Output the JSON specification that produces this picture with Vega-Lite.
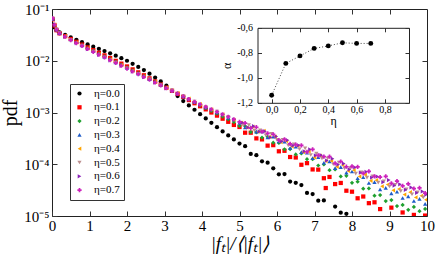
{
"$schema": "https://vega.github.io/schema/vega-lite/v6.json",
"width": 375, "height": 207,
"autosize": "none",
"padding": {"left": 52, "top": 9, "right": 9, "bottom": 43},
"background": "white",
"config": {
  "font": "Liberation Serif",
  "view": {"stroke": "#222", "strokeWidth": 1},
  "axis": {"grid": false, "labelFont": "Liberation Serif", "titleFont": "Liberation Serif", "tickColor": "#333", "domainColor": "#222", "labelColor": "#000", "titleColor": "#000", "titleFontWeight": "normal"},
  "legend": {"labelFont": "Liberation Serif", "labelFontSize": 11, "labelColor": "#000", "rowPadding": 1.8, "padding": 4, "symbolSize": 18, "labelOffset": 9, "strokeColor": "#333", "fillColor": "white"}
},
"datasets": {
"pdf": [
{"s":"η=0.0","x":0.02,"y":5.01e-2},{"s":"η=0.0","x":0.07,"y":4.37e-2},{"s":"η=0.0","x":0.12,"y":3.89e-2},{"s":"η=0.0","x":0.2,"y":3.55e-2},{"s":"η=0.0","x":0.35,"y":3.16e-2},{"s":"η=0.0","x":0.5,"y":2.82e-2},{"s":"η=0.0","x":0.65,"y":2.54e-2},{"s":"η=0.0","x":0.8,"y":2.29e-2},{"s":"η=0.0","x":0.95,"y":2.07e-2},{"s":"η=0.0","x":1.1,"y":1.87e-2},{"s":"η=0.0","x":1.25,"y":1.70e-2},{"s":"η=0.0","x":1.4,"y":1.54e-2},{"s":"η=0.0","x":1.55,"y":1.39e-2},{"s":"η=0.0","x":1.7,"y":1.25e-2},{"s":"η=0.0","x":1.85,"y":1.12e-2},{"s":"η=0.0","x":2.0,"y":1.00e-2},{"s":"η=0.0","x":2.15,"y":8.71e-3},{"s":"η=0.0","x":2.3,"y":7.59e-3},{"s":"η=0.0","x":2.45,"y":6.61e-3},{"s":"η=0.0","x":2.6,"y":5.62e-3},{"s":"η=0.0","x":2.75,"y":4.73e-3},{"s":"η=0.0","x":2.9,"y":3.98e-3},{"s":"η=0.0","x":3.05,"y":3.29e-3},{"s":"η=0.0","x":3.2,"y":2.62e-3},{"s":"η=0.0","x":3.35,"y":2.08e-3},{"s":"η=0.0","x":3.5,"y":1.66e-3},{"s":"η=0.0","x":3.65,"y":1.37e-3},{"s":"η=0.0","x":3.8,"y":1.13e-3},{"s":"η=0.0","x":3.95,"y":9.29e-4},{"s":"η=0.0","x":4.1,"y":7.66e-4},{"s":"η=0.0","x":4.25,"y":6.31e-4},{"s":"η=0.0","x":4.4,"y":5.20e-4},{"s":"η=0.0","x":4.55,"y":4.31e-4},{"s":"η=0.0","x":4.7,"y":3.60e-4},{"s":"η=0.0","x":4.85,"y":3.01e-4},{"s":"η=0.0","x":5.0,"y":2.51e-4},{"s":"η=0.0","x":5.15,"y":2.23e-4},{"s":"η=0.0","x":5.3,"y":1.58e-4},{"s":"η=0.0","x":5.45,"y":1.50e-4},{"s":"η=0.0","x":5.6,"y":1.14e-4},{"s":"η=0.0","x":5.75,"y":1.07e-4},{"s":"η=0.0","x":5.9,"y":8.36e-5},{"s":"η=0.0","x":6.05,"y":6.38e-5},{"s":"η=0.0","x":6.2,"y":6.46e-5},{"s":"η=0.0","x":6.35,"y":4.62e-5},{"s":"η=0.0","x":6.5,"y":4.37e-5},{"s":"η=0.0","x":6.65,"y":3.96e-5},{"s":"η=0.0","x":6.8,"y":2.79e-5},{"s":"η=0.0","x":6.95,"y":2.65e-5},{"s":"η=0.0","x":7.1,"y":1.98e-5},{"s":"η=0.0","x":7.25,"y":2.00e-5},{"s":"η=0.0","x":7.55,"y":1.52e-5},{"s":"η=0.0","x":7.7,"y":1.16e-5},{"s":"η=0.0","x":7.85,"y":1.10e-5},
{"s":"η=0.1","x":0.02,"y":6.31e-2},{"s":"η=0.1","x":0.07,"y":4.79e-2},{"s":"η=0.1","x":0.12,"y":3.89e-2},{"s":"η=0.1","x":0.2,"y":3.39e-2},{"s":"η=0.1","x":0.35,"y":2.99e-2},{"s":"η=0.1","x":0.5,"y":2.63e-2},{"s":"η=0.1","x":0.65,"y":2.32e-2},{"s":"η=0.1","x":0.8,"y":2.05e-2},{"s":"η=0.1","x":0.95,"y":1.81e-2},{"s":"η=0.1","x":1.1,"y":1.61e-2},{"s":"η=0.1","x":1.25,"y":1.43e-2},{"s":"η=0.1","x":1.4,"y":1.27e-2},{"s":"η=0.1","x":1.55,"y":1.13e-2},{"s":"η=0.1","x":1.7,"y":9.95e-3},{"s":"η=0.1","x":1.85,"y":8.79e-3},{"s":"η=0.1","x":2.0,"y":7.76e-3},{"s":"η=0.1","x":2.15,"y":6.81e-3},{"s":"η=0.1","x":2.3,"y":5.97e-3},{"s":"η=0.1","x":2.45,"y":5.24e-3},{"s":"η=0.1","x":2.6,"y":4.57e-3},{"s":"η=0.1","x":2.75,"y":3.98e-3},{"s":"η=0.1","x":2.9,"y":3.47e-3},{"s":"η=0.1","x":3.05,"y":3.02e-3},{"s":"η=0.1","x":3.2,"y":2.63e-3},{"s":"η=0.1","x":3.35,"y":2.29e-3},{"s":"η=0.1","x":3.5,"y":2.00e-3},{"s":"η=0.1","x":3.65,"y":1.74e-3},{"s":"η=0.1","x":3.8,"y":1.51e-3},{"s":"η=0.1","x":3.95,"y":1.32e-3},{"s":"η=0.1","x":4.1,"y":1.15e-3},{"s":"η=0.1","x":4.25,"y":1.00e-3},{"s":"η=0.1","x":4.4,"y":8.71e-4},{"s":"η=0.1","x":4.55,"y":7.59e-4},{"s":"η=0.1","x":4.7,"y":6.61e-4},{"s":"η=0.1","x":4.85,"y":5.75e-4},{"s":"η=0.1","x":5.0,"y":5.25e-4},{"s":"η=0.1","x":5.15,"y":4.07e-4},{"s":"η=0.1","x":5.3,"y":4.07e-4},{"s":"η=0.1","x":5.45,"y":3.16e-4},{"s":"η=0.1","x":5.6,"y":3.02e-4},{"s":"η=0.1","x":5.75,"y":2.29e-4},{"s":"η=0.1","x":5.9,"y":2.34e-4},{"s":"η=0.1","x":6.05,"y":1.78e-4},{"s":"η=0.1","x":6.2,"y":1.82e-4},{"s":"η=0.1","x":6.35,"y":1.38e-4},{"s":"η=0.1","x":6.5,"y":1.35e-4},{"s":"η=0.1","x":6.65,"y":9.77e-5},{"s":"η=0.1","x":6.8,"y":1.05e-4},{"s":"η=0.1","x":6.95,"y":7.94e-5},{"s":"η=0.1","x":7.1,"y":7.87e-5},{"s":"η=0.1","x":7.25,"y":5.37e-5},{"s":"η=0.1","x":7.3,"y":3.47e-5},{"s":"η=0.1","x":7.4,"y":5.68e-5},{"s":"η=0.1","x":7.55,"y":4.14e-5},{"s":"η=0.1","x":7.7,"y":4.35e-5},{"s":"η=0.1","x":7.85,"y":3.08e-5},{"s":"η=0.1","x":8.0,"y":2.95e-5},{"s":"η=0.1","x":8.15,"y":2.20e-5},{"s":"η=0.1","x":8.3,"y":2.38e-5},{"s":"η=0.1","x":8.45,"y":1.77e-5},{"s":"η=0.1","x":8.6,"y":1.84e-5},{"s":"η=0.1","x":8.75,"y":1.36e-5},{"s":"η=0.1","x":9.05,"y":1.45e-5},{"s":"η=0.1","x":9.35,"y":1.17e-5},{"s":"η=0.1","x":9.65,"y":1.05e-5},{"s":"η=0.1","x":9.95,"y":1.02e-5},
{"s":"η=0.2","x":0.02,"y":6.46e-2},{"s":"η=0.2","x":0.07,"y":4.90e-2},{"s":"η=0.2","x":0.12,"y":3.98e-2},{"s":"η=0.2","x":0.2,"y":3.39e-2},{"s":"η=0.2","x":0.35,"y":2.95e-2},{"s":"η=0.2","x":0.5,"y":2.57e-2},{"s":"η=0.2","x":0.65,"y":2.26e-2},{"s":"η=0.2","x":0.8,"y":2.00e-2},{"s":"η=0.2","x":0.95,"y":1.75e-2},{"s":"η=0.2","x":1.1,"y":1.55e-2},{"s":"η=0.2","x":1.25,"y":1.37e-2},{"s":"η=0.2","x":1.4,"y":1.22e-2},{"s":"η=0.2","x":1.55,"y":1.08e-2},{"s":"η=0.2","x":1.7,"y":9.51e-3},{"s":"η=0.2","x":1.85,"y":8.39e-3},{"s":"η=0.2","x":2.0,"y":7.41e-3},{"s":"η=0.2","x":2.15,"y":6.53e-3},{"s":"η=0.2","x":2.3,"y":5.74e-3},{"s":"η=0.2","x":2.45,"y":5.05e-3},{"s":"η=0.2","x":2.6,"y":4.45e-3},{"s":"η=0.2","x":2.75,"y":3.91e-3},{"s":"η=0.2","x":2.9,"y":3.44e-3},{"s":"η=0.2","x":3.05,"y":3.03e-3},{"s":"η=0.2","x":3.2,"y":2.65e-3},{"s":"η=0.2","x":3.35,"y":2.33e-3},{"s":"η=0.2","x":3.5,"y":2.04e-3},{"s":"η=0.2","x":3.65,"y":1.79e-3},{"s":"η=0.2","x":3.8,"y":1.57e-3},{"s":"η=0.2","x":3.95,"y":1.38e-3},{"s":"η=0.2","x":4.1,"y":1.21e-3},{"s":"η=0.2","x":4.25,"y":1.07e-3},{"s":"η=0.2","x":4.4,"y":9.46e-4},{"s":"η=0.2","x":4.55,"y":8.36e-4},{"s":"η=0.2","x":4.7,"y":7.38e-4},{"s":"η=0.2","x":4.85,"y":6.52e-4},{"s":"η=0.2","x":5.0,"y":5.50e-4},{"s":"η=0.2","x":5.15,"y":5.45e-4},{"s":"η=0.2","x":5.3,"y":4.19e-4},{"s":"η=0.2","x":5.45,"y":4.15e-4},{"s":"η=0.2","x":5.6,"y":3.27e-4},{"s":"η=0.2","x":5.75,"y":3.39e-4},{"s":"η=0.2","x":5.9,"y":2.61e-4},{"s":"η=0.2","x":6.05,"y":2.58e-4},{"s":"η=0.2","x":6.2,"y":1.94e-4},{"s":"η=0.2","x":6.35,"y":1.97e-4},{"s":"η=0.2","x":6.5,"y":1.55e-4},{"s":"η=0.2","x":6.65,"y":1.62e-4},{"s":"η=0.2","x":6.8,"y":1.25e-4},{"s":"η=0.2","x":6.95,"y":1.25e-4},{"s":"η=0.2","x":7.1,"y":9.46e-5},{"s":"η=0.2","x":7.25,"y":9.89e-5},{"s":"η=0.2","x":7.4,"y":7.66e-5},{"s":"η=0.2","x":7.55,"y":7.96e-5},{"s":"η=0.2","x":7.7,"y":5.81e-5},{"s":"η=0.2","x":7.85,"y":5.98e-5},{"s":"η=0.2","x":8.0,"y":4.37e-5},{"s":"η=0.2","x":8.15,"y":4.61e-5},{"s":"η=0.2","x":8.3,"y":3.37e-5},{"s":"η=0.2","x":8.45,"y":3.40e-5},{"s":"η=0.2","x":8.6,"y":2.47e-5},{"s":"η=0.2","x":8.75,"y":2.54e-5},{"s":"η=0.2","x":8.9,"y":1.94e-5},{"s":"η=0.2","x":9.05,"y":2.03e-5},{"s":"η=0.2","x":9.2,"y":1.56e-5},{"s":"η=0.2","x":9.35,"y":1.64e-5},{"s":"η=0.2","x":9.5,"y":1.32e-5},{"s":"η=0.2","x":9.65,"y":1.50e-5},{"s":"η=0.2","x":9.8,"y":1.24e-5},{"s":"η=0.2","x":9.95,"y":1.37e-5},
{"s":"η=0.3","x":0.02,"y":6.46e-2},{"s":"η=0.3","x":0.12,"y":3.98e-2},{"s":"η=0.3","x":0.2,"y":3.43e-2},{"s":"η=0.3","x":0.5,"y":2.57e-2},{"s":"η=0.3","x":0.8,"y":1.98e-2},{"s":"η=0.3","x":1.1,"y":1.53e-2},{"s":"η=0.3","x":1.4,"y":1.19e-2},{"s":"η=0.3","x":1.7,"y":9.29e-3},{"s":"η=0.3","x":2.0,"y":7.24e-3},{"s":"η=0.3","x":2.3,"y":5.65e-3},{"s":"η=0.3","x":2.6,"y":4.41e-3},{"s":"η=0.3","x":2.9,"y":3.44e-3},{"s":"η=0.3","x":3.2,"y":2.66e-3},{"s":"η=0.3","x":3.5,"y":2.05e-3},{"s":"η=0.3","x":3.8,"y":1.60e-3},{"s":"η=0.3","x":4.1,"y":1.26e-3},{"s":"η=0.3","x":4.4,"y":1.00e-3},{"s":"η=0.3","x":4.7,"y":7.94e-4},{"s":"η=0.3","x":5.0,"y":6.31e-4},{"s":"η=0.3","x":5.15,"y":5.16e-4},{"s":"η=0.3","x":5.3,"y":5.21e-4},{"s":"η=0.3","x":5.45,"y":4.27e-4},{"s":"η=0.3","x":5.6,"y":4.31e-4},{"s":"η=0.3","x":5.75,"y":3.29e-4},{"s":"η=0.3","x":5.9,"y":3.40e-4},{"s":"η=0.3","x":6.05,"y":2.77e-4},{"s":"η=0.3","x":6.2,"y":2.74e-4},{"s":"η=0.3","x":6.35,"y":2.06e-4},{"s":"η=0.3","x":6.5,"y":2.19e-4},{"s":"η=0.3","x":6.65,"y":1.71e-4},{"s":"η=0.3","x":6.8,"y":1.67e-4},{"s":"η=0.3","x":6.95,"y":1.31e-4},{"s":"η=0.3","x":7.1,"y":1.37e-4},{"s":"η=0.3","x":7.25,"y":1.07e-4},{"s":"η=0.3","x":7.4,"y":1.13e-4},{"s":"η=0.3","x":7.55,"y":8.39e-5},{"s":"η=0.3","x":7.7,"y":8.83e-5},{"s":"η=0.3","x":7.85,"y":6.89e-5},{"s":"η=0.3","x":8.0,"y":7.24e-5},{"s":"η=0.3","x":8.15,"y":5.36e-5},{"s":"η=0.3","x":8.3,"y":5.60e-5},{"s":"η=0.3","x":8.45,"y":4.34e-5},{"s":"η=0.3","x":8.6,"y":4.53e-5},{"s":"η=0.3","x":8.75,"y":3.27e-5},{"s":"η=0.3","x":8.9,"y":3.50e-5},{"s":"η=0.3","x":9.05,"y":2.74e-5},{"s":"η=0.3","x":9.2,"y":2.94e-5},{"s":"η=0.3","x":9.35,"y":2.23e-5},{"s":"η=0.3","x":9.5,"y":2.40e-5},{"s":"η=0.3","x":9.65,"y":1.95e-5},{"s":"η=0.3","x":9.8,"y":2.14e-5},{"s":"η=0.3","x":9.95,"y":1.72e-5},
{"s":"η=0.4","x":0.07,"y":5.01e-2},{"s":"η=0.4","x":0.35,"y":2.99e-2},{"s":"η=0.4","x":0.65,"y":2.25e-2},{"s":"η=0.4","x":0.95,"y":1.73e-2},{"s":"η=0.4","x":1.25,"y":1.35e-2},{"s":"η=0.4","x":1.55,"y":1.05e-2},{"s":"η=0.4","x":1.85,"y":8.20e-3},{"s":"η=0.4","x":2.15,"y":6.40e-3},{"s":"η=0.4","x":2.45,"y":4.99e-3},{"s":"η=0.4","x":2.75,"y":3.89e-3},{"s":"η=0.4","x":3.05,"y":3.03e-3},{"s":"η=0.4","x":3.35,"y":2.37e-3},{"s":"η=0.4","x":3.65,"y":1.85e-3},{"s":"η=0.4","x":3.95,"y":1.45e-3},{"s":"η=0.4","x":4.25,"y":1.15e-3},{"s":"η=0.4","x":4.55,"y":9.20e-4},{"s":"η=0.4","x":4.85,"y":7.24e-4},{"s":"η=0.4","x":5.05,"y":6.38e-4},{"s":"η=0.4","x":5.2,"y":5.13e-4},{"s":"η=0.4","x":5.35,"y":5.31e-4},{"s":"η=0.4","x":5.5,"y":4.27e-4},{"s":"η=0.4","x":5.65,"y":4.42e-4},{"s":"η=0.4","x":5.8,"y":3.39e-4},{"s":"η=0.4","x":5.95,"y":3.43e-4},{"s":"η=0.4","x":6.1,"y":2.67e-4},{"s":"η=0.4","x":6.25,"y":2.79e-4},{"s":"η=0.4","x":6.4,"y":2.21e-4},{"s":"η=0.4","x":6.55,"y":2.26e-4},{"s":"η=0.4","x":6.7,"y":1.72e-4},{"s":"η=0.4","x":6.85,"y":1.77e-4},{"s":"η=0.4","x":7.0,"y":1.35e-4},{"s":"η=0.4","x":7.15,"y":1.46e-4},{"s":"η=0.4","x":7.3,"y":1.15e-4},{"s":"η=0.4","x":7.45,"y":1.16e-4},{"s":"η=0.4","x":7.6,"y":8.91e-5},{"s":"η=0.4","x":7.75,"y":9.66e-5},{"s":"η=0.4","x":7.9,"y":7.41e-5},{"s":"η=0.4","x":8.05,"y":7.66e-5},{"s":"η=0.4","x":8.2,"y":5.83e-5},{"s":"η=0.4","x":8.35,"y":6.28e-5},{"s":"η=0.4","x":8.5,"y":4.79e-5},{"s":"η=0.4","x":8.65,"y":4.92e-5},{"s":"η=0.4","x":8.8,"y":3.75e-5},{"s":"η=0.4","x":8.95,"y":4.04e-5},{"s":"η=0.4","x":9.1,"y":3.13e-5},{"s":"η=0.4","x":9.25,"y":3.31e-5},{"s":"η=0.4","x":9.4,"y":2.59e-5},{"s":"η=0.4","x":9.55,"y":2.88e-5},{"s":"η=0.4","x":9.7,"y":2.29e-5},{"s":"η=0.4","x":9.85,"y":2.45e-5},{"s":"η=0.4","x":9.97,"y":2.06e-5},
{"s":"η=0.5","x":0.02,"y":6.61e-2},{"s":"η=0.5","x":0.12,"y":4.07e-2},{"s":"η=0.5","x":0.2,"y":3.43e-2},{"s":"η=0.5","x":0.5,"y":2.54e-2},{"s":"η=0.5","x":0.8,"y":1.95e-2},{"s":"η=0.5","x":1.1,"y":1.51e-2},{"s":"η=0.5","x":1.4,"y":1.17e-2},{"s":"η=0.5","x":1.7,"y":9.18e-3},{"s":"η=0.5","x":2.0,"y":7.16e-3},{"s":"η=0.5","x":2.3,"y":5.58e-3},{"s":"η=0.5","x":2.6,"y":4.36e-3},{"s":"η=0.5","x":2.9,"y":3.40e-3},{"s":"η=0.5","x":3.2,"y":2.65e-3},{"s":"η=0.5","x":3.5,"y":2.07e-3},{"s":"η=0.5","x":3.8,"y":1.63e-3},{"s":"η=0.5","x":4.1,"y":1.29e-3},{"s":"η=0.5","x":4.4,"y":1.04e-3},{"s":"η=0.5","x":4.7,"y":8.28e-4},{"s":"η=0.5","x":5.1,"y":5.62e-4},{"s":"η=0.5","x":5.25,"y":5.69e-4},{"s":"η=0.5","x":5.4,"y":4.47e-4},{"s":"η=0.5","x":5.55,"y":4.52e-4},{"s":"η=0.5","x":5.7,"y":3.63e-4},{"s":"η=0.5","x":5.85,"y":3.85e-4},{"s":"η=0.5","x":6.0,"y":2.95e-4},{"s":"η=0.5","x":6.15,"y":2.96e-4},{"s":"η=0.5","x":6.3,"y":2.31e-4},{"s":"η=0.5","x":6.45,"y":2.43e-4},{"s":"η=0.5","x":6.6,"y":1.95e-4},{"s":"η=0.5","x":6.75,"y":2.02e-4},{"s":"η=0.5","x":6.9,"y":1.51e-4},{"s":"η=0.5","x":7.05,"y":1.60e-4},{"s":"η=0.5","x":7.2,"y":1.29e-4},{"s":"η=0.5","x":7.35,"y":1.30e-4},{"s":"η=0.5","x":7.5,"y":1.00e-4},{"s":"η=0.5","x":7.65,"y":1.08e-4},{"s":"η=0.5","x":7.8,"y":8.32e-5},{"s":"η=0.5","x":7.95,"y":8.41e-5},{"s":"η=0.5","x":8.1,"y":6.61e-5},{"s":"η=0.5","x":8.25,"y":7.00e-5},{"s":"η=0.5","x":8.4,"y":5.50e-5},{"s":"η=0.5","x":8.55,"y":5.83e-5},{"s":"η=0.5","x":8.7,"y":4.41e-5},{"s":"η=0.5","x":8.85,"y":4.70e-5},{"s":"η=0.5","x":9.0,"y":3.72e-5},{"s":"η=0.5","x":9.15,"y":3.99e-5},{"s":"η=0.5","x":9.3,"y":3.03e-5},{"s":"η=0.5","x":9.45,"y":3.26e-5},{"s":"η=0.5","x":9.6,"y":2.63e-5},{"s":"η=0.5","x":9.75,"y":2.88e-5},{"s":"η=0.5","x":9.9,"y":2.29e-5},
{"s":"η=0.6","x":0.07,"y":4.90e-2},{"s":"η=0.6","x":0.35,"y":2.88e-2},{"s":"η=0.6","x":0.65,"y":2.18e-2},{"s":"η=0.6","x":0.95,"y":1.67e-2},{"s":"η=0.6","x":1.25,"y":1.30e-2},{"s":"η=0.6","x":1.55,"y":1.02e-2},{"s":"η=0.6","x":1.85,"y":7.92e-3},{"s":"η=0.6","x":2.15,"y":6.18e-3},{"s":"η=0.6","x":2.45,"y":4.82e-3},{"s":"η=0.6","x":2.75,"y":3.76e-3},{"s":"η=0.6","x":3.05,"y":2.93e-3},{"s":"η=0.6","x":3.35,"y":2.29e-3},{"s":"η=0.6","x":3.65,"y":1.79e-3},{"s":"η=0.6","x":3.95,"y":1.42e-3},{"s":"η=0.6","x":4.25,"y":1.14e-3},{"s":"η=0.6","x":4.55,"y":9.10e-4},{"s":"η=0.6","x":4.85,"y":7.29e-4},{"s":"η=0.6","x":5.08,"y":6.40e-4},{"s":"η=0.6","x":5.23,"y":5.14e-4},{"s":"η=0.6","x":5.38,"y":5.45e-4},{"s":"η=0.6","x":5.53,"y":4.28e-4},{"s":"η=0.6","x":5.68,"y":4.33e-4},{"s":"η=0.6","x":5.83,"y":3.32e-4},{"s":"η=0.6","x":5.98,"y":3.44e-4},{"s":"η=0.6","x":6.13,"y":2.76e-4},{"s":"η=0.6","x":6.28,"y":2.92e-4},{"s":"η=0.6","x":6.43,"y":2.30e-4},{"s":"η=0.6","x":6.58,"y":2.32e-4},{"s":"η=0.6","x":6.73,"y":1.78e-4},{"s":"η=0.6","x":6.88,"y":1.93e-4},{"s":"η=0.6","x":7.03,"y":1.48e-4},{"s":"η=0.6","x":7.18,"y":1.50e-4},{"s":"η=0.6","x":7.33,"y":1.18e-4},{"s":"η=0.6","x":7.48,"y":1.28e-4},{"s":"η=0.6","x":7.63,"y":9.86e-5},{"s":"η=0.6","x":7.78,"y":1.03e-4},{"s":"η=0.6","x":7.93,"y":7.94e-5},{"s":"η=0.6","x":8.08,"y":8.67e-5},{"s":"η=0.6","x":8.23,"y":6.86e-5},{"s":"η=0.6","x":8.38,"y":7.14e-5},{"s":"η=0.6","x":8.53,"y":5.52e-5},{"s":"η=0.6","x":8.68,"y":5.79e-5},{"s":"η=0.6","x":8.83,"y":4.51e-5},{"s":"η=0.6","x":8.98,"y":4.95e-5},{"s":"η=0.6","x":9.13,"y":3.88e-5},{"s":"η=0.6","x":9.28,"y":4.10e-5},{"s":"η=0.6","x":9.43,"y":3.21e-5},{"s":"η=0.6","x":9.58,"y":3.56e-5},{"s":"η=0.6","x":9.73,"y":2.81e-5},{"s":"η=0.6","x":9.88,"y":2.99e-5},{"s":"η=0.6","x":9.98,"y":2.59e-5},
{"s":"η=0.7","x":0.02,"y":6.61e-2},{"s":"η=0.7","x":0.07,"y":5.01e-2},{"s":"η=0.7","x":0.12,"y":3.98e-2},{"s":"η=0.7","x":0.2,"y":3.39e-2},{"s":"η=0.7","x":0.35,"y":2.92e-2},{"s":"η=0.7","x":0.5,"y":2.51e-2},{"s":"η=0.7","x":0.65,"y":2.20e-2},{"s":"η=0.7","x":0.8,"y":1.93e-2},{"s":"η=0.7","x":0.95,"y":1.69e-2},{"s":"η=0.7","x":1.1,"y":1.49e-2},{"s":"η=0.7","x":1.25,"y":1.32e-2},{"s":"η=0.7","x":1.4,"y":1.16e-2},{"s":"η=0.7","x":1.55,"y":1.03e-2},{"s":"η=0.7","x":1.7,"y":9.08e-3},{"s":"η=0.7","x":1.85,"y":8.02e-3},{"s":"η=0.7","x":2.0,"y":7.08e-3},{"s":"η=0.7","x":2.15,"y":6.25e-3},{"s":"η=0.7","x":2.3,"y":5.52e-3},{"s":"η=0.7","x":2.45,"y":4.88e-3},{"s":"η=0.7","x":2.6,"y":4.31e-3},{"s":"η=0.7","x":2.75,"y":3.80e-3},{"s":"η=0.7","x":2.9,"y":3.36e-3},{"s":"η=0.7","x":3.05,"y":2.96e-3},{"s":"η=0.7","x":3.2,"y":2.62e-3},{"s":"η=0.7","x":3.35,"y":2.31e-3},{"s":"η=0.7","x":3.5,"y":2.04e-3},{"s":"η=0.7","x":3.65,"y":1.82e-3},{"s":"η=0.7","x":3.8,"y":1.61e-3},{"s":"η=0.7","x":3.95,"y":1.44e-3},{"s":"η=0.7","x":4.1,"y":1.28e-3},{"s":"η=0.7","x":4.25,"y":1.15e-3},{"s":"η=0.7","x":4.4,"y":1.03e-3},{"s":"η=0.7","x":4.55,"y":9.20e-4},{"s":"η=0.7","x":4.7,"y":8.24e-4},{"s":"η=0.7","x":4.85,"y":7.38e-4},{"s":"η=0.7","x":5.0,"y":6.61e-4},{"s":"η=0.7","x":5.15,"y":6.24e-4},{"s":"η=0.7","x":5.3,"y":5.01e-4},{"s":"η=0.7","x":5.45,"y":5.19e-4},{"s":"η=0.7","x":5.6,"y":4.27e-4},{"s":"η=0.7","x":5.75,"y":3.94e-4},{"s":"η=0.7","x":5.9,"y":3.80e-4},{"s":"η=0.7","x":6.05,"y":2.92e-4},{"s":"η=0.7","x":6.2,"y":3.02e-4},{"s":"η=0.7","x":6.35,"y":2.48e-4},{"s":"η=0.7","x":6.5,"y":2.40e-4},{"s":"η=0.7","x":6.65,"y":2.32e-4},{"s":"η=0.7","x":6.8,"y":1.74e-4},{"s":"η=0.7","x":6.95,"y":1.93e-4},{"s":"η=0.7","x":7.1,"y":1.49e-4},{"s":"η=0.7","x":7.25,"y":1.41e-4},{"s":"η=0.7","x":7.4,"y":1.41e-4},{"s":"η=0.7","x":7.55,"y":1.04e-4},{"s":"η=0.7","x":7.7,"y":1.13e-4},{"s":"η=0.7","x":7.85,"y":8.95e-5},{"s":"η=0.7","x":8.0,"y":9.12e-5},{"s":"η=0.7","x":8.15,"y":8.93e-5},{"s":"η=0.7","x":8.3,"y":6.64e-5},{"s":"η=0.7","x":8.45,"y":7.29e-5},{"s":"η=0.7","x":8.6,"y":5.83e-5},{"s":"η=0.7","x":8.75,"y":5.62e-5},{"s":"η=0.7","x":8.9,"y":5.81e-5},{"s":"η=0.7","x":9.05,"y":4.26e-5},{"s":"η=0.7","x":9.2,"y":4.74e-5},{"s":"η=0.7","x":9.35,"y":3.83e-5},{"s":"η=0.7","x":9.5,"y":4.17e-5},{"s":"η=0.7","x":9.65,"y":3.37e-5},{"s":"η=0.7","x":9.8,"y":3.50e-5},{"s":"η=0.7","x":9.95,"y":2.76e-5}
],
"alpha": [
{"eta":0,"a":-1.14},{"eta":0.1,"a":-0.885},{"eta":0.2,"a":-0.825},{"eta":0.3,"a":-0.765},{"eta":0.4,"a":-0.745},{"eta":0.5,"a":-0.72},{"eta":0.6,"a":-0.725},{"eta":0.7,"a":-0.725}
]
},
"resolve": {"scale": {"x": "independent", "y": "independent"}},
"layer": [
{
  "data": {"name": "pdf"},
  "mark": {"type": "point", "filled": true, "size": 18, "opacity": 1, "clip": true},
  "encoding": {
    "x": {"field": "x", "type": "quantitative", "scale": {"domain": [0, 10], "nice": false, "zero": false},
      "axis": {"orient": "bottom", "values": [0,1,2,3,4,5,6,7,8,9,10], "format": "d", "domain": false, "tickSize": -5, "labelFont": "Liberation Serif", "labelFontSize": 15, "labelPadding": 7, "labelFlush": false, "title": "|fₜ|/⟨|fₜ|⟩", "titleFont": "Liberation Serif", "titleFontSize": 19, "titleFontStyle": "italic", "titlePadding": 1}},
    "y": {"field": "y", "type": "quantitative", "scale": {"type": "log", "domain": [0.00001, 0.1], "nice": false},
      "axis": {"orient": "left", "values": [0.00001, 0.0001, 0.001, 0.01, 0.1], "domain": false, "tickSize": -5, "labelFont": "Liberation Serif", "labelFontSize": 15, "labelPadding": 8, "labelFlush": false, "labelExpr": "datum.value > 0.05 ? '10⁻¹' : datum.value > 0.005 ? '10⁻²' : datum.value > 0.0005 ? '10⁻³' : datum.value > 0.00005 ? '10⁻⁴' : '10⁻⁵'", "title": "pdf", "titleFont": "Liberation Serif", "titleFontSize": 20, "titlePadding": 3}},
    "color": {"field": "s", "type": "nominal",
      "scale": {"domain": ["η=0.0","η=0.1","η=0.2","η=0.3","η=0.4","η=0.5","η=0.6","η=0.7"], "range": ["#000000","#ff0000","#1fa02f","#1f5cc8","#ffa500","#bc8f8f","#8a22b8","#cc22bb"]},
      "legend": {"orient": "none", "legendX": 18, "legendY": 75, "title": null}},
    "shape": {"field": "s", "type": "nominal",
      "scale": {"domain": ["η=0.0","η=0.1","η=0.2","η=0.3","η=0.4","η=0.5","η=0.6","η=0.7"], "range": ["circle","square","diamond","triangle-up","triangle-left","triangle-down","triangle-right","cross"]},
      "legend": {"orient": "none", "legendX": 18, "legendY": 75, "title": null}}
  }
},
{
  "data": {"values": [{"x": 5, "y": 0.001}]},
  "mark": {"type": "point", "opacity": 0},
  "encoding": {
    "x": {"field": "x", "type": "quantitative", "scale": {"domain": [0, 10], "nice": false, "zero": false},
      "axis": {"orient": "top", "values": [1,2,3,4,5,6,7,8,9], "domain": false, "labels": false, "tickSize": -5, "title": null}},
    "y": {"field": "y", "type": "quantitative", "scale": {"type": "log", "domain": [0.00001, 0.1], "nice": false},
      "axis": {"orient": "right", "values": [0.0001, 0.001, 0.01], "domain": false, "labels": false, "tickSize": -5, "title": null}}
  }
},
{
  "data": {"name": "alpha"},
  "mark": {"type": "line", "color": "#444", "strokeDash": [1, 2], "strokeWidth": 1},
  "encoding": {
    "x": {"field": "eta", "type": "quantitative", "scale": {"domain": [-0.1, 0.97], "range": [205.5, 357], "nice": false, "zero": false},
      "axis": {"orient": "top", "offset": -18.8, "values": [0, 0.2, 0.4, 0.6, 0.8], "labels": false, "tickSize": -4, "title": null, "domainColor": "#222"}},
    "y": {"field": "a", "type": "quantitative", "scale": {"domain": [-1.2, -0.6], "range": [93.8, 18.8], "nice": false, "zero": false},
      "axis": {"orient": "right", "offset": -18, "values": [-1.2, -1, -0.8, -0.6], "labels": false, "tickSize": -4, "title": null, "domainColor": "#222"}}
  }
},
{
  "data": {"name": "alpha"},
  "mark": {"type": "point", "filled": true, "color": "#000", "size": 24, "opacity": 1},
  "encoding": {
    "x": {"field": "eta", "type": "quantitative", "scale": {"domain": [-0.1, 0.97], "range": [205.5, 357], "nice": false, "zero": false},
      "axis": {"orient": "bottom", "offset": -113.2, "values": [0, 0.2, 0.4, 0.6, 0.8], "tickSize": -4, "labelFont": "Liberation Serif", "labelFontSize": 10, "labelPadding": 6, "labelExpr": "replace(replace(datum.label, '.', ','), '−', '-')", "title": "η", "titleFont": "Liberation Serif", "titleFontSize": 12, "titlePadding": 1, "domainColor": "#222"}},
    "y": {"field": "a", "type": "quantitative", "scale": {"domain": [-1.2, -0.6], "range": [93.8, 18.8], "nice": false, "zero": false},
      "axis": {"orient": "left", "offset": -205.5, "values": [-1.2, -1, -0.8, -0.6], "tickSize": -4, "labelFont": "Liberation Serif", "labelFontSize": 10, "labelPadding": 9, "labelExpr": "replace(replace(datum.label, '.', ','), '−', '-')", "title": "α", "titleFont": "Liberation Serif", "titleFontSize": 12, "titlePadding": 3, "domainColor": "#222"}}
  }
}
]
}
